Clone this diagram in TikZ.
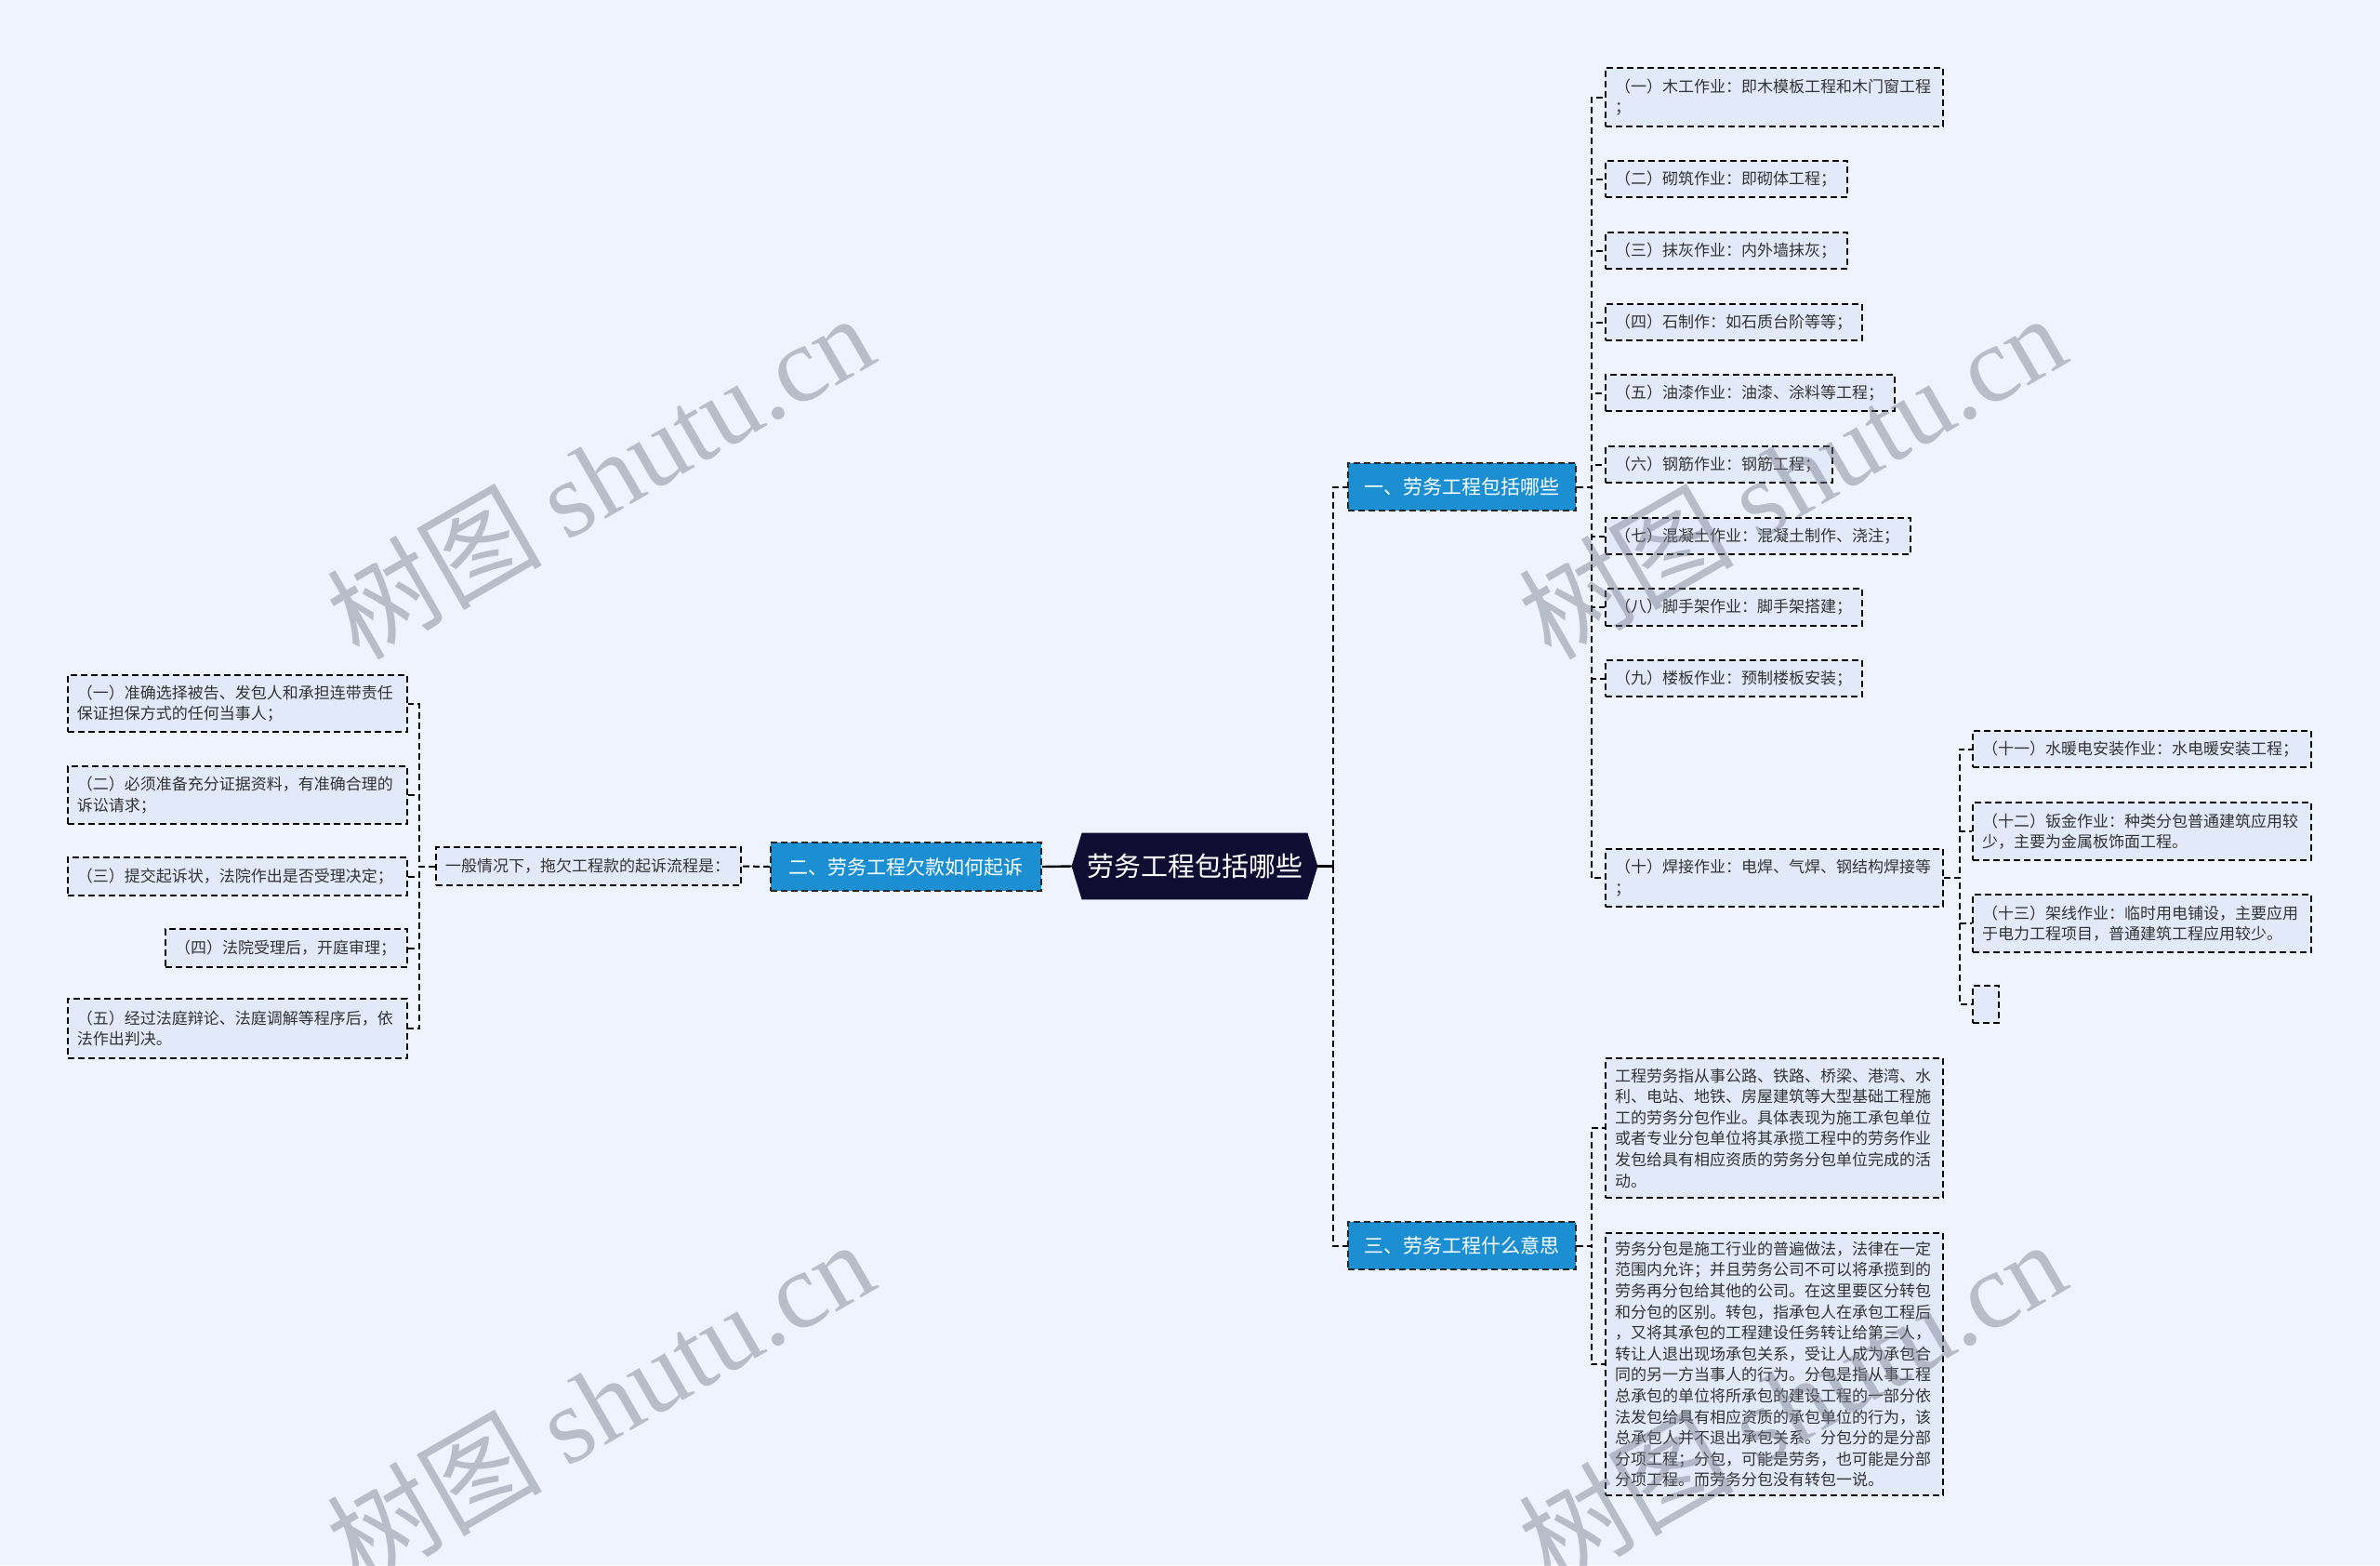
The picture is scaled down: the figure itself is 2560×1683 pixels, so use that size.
\documentclass[tikz,border=0pt]{standalone}
\usepackage{fontspec}
\setmainfont{Noto Sans CJK SC}
\newfontfamily\wmfont{Liberation Serif}
\usepackage{tikz}
\usetikzlibrary{backgrounds}
\definecolor{pagebg}{RGB}{238,243,253}
\definecolor{leaffill}{RGB}{226,234,250}
\definecolor{branchblue}{RGB}{27,143,210}
\definecolor{rootnavy}{RGB}{17,13,50}
\definecolor{markgray}{RGB}{120,125,140}

\begin{document}
\begin{tikzpicture}[x=0.5pt, y=-0.5pt,
  leaf/.style={draw=black, line width=0.9pt, dash pattern=on 3.5pt off 2pt, fill=leaffill,
    font=\fontsize{8.5}{11.3}\selectfont, text=black!80, align=left, inner xsep=5pt, inner ysep=2pt},
  branch/.style={draw=black!85, line width=0.9pt, dash pattern=on 3.5pt off 2pt, fill=branchblue,
    font=\fontsize{10.5}{13}\selectfont, text=white, minimum width=122.5pt, minimum height=25.5pt, inner sep=0pt},
  root/.style={font=\fontsize{14.5}{17}\selectfont, text=white, minimum width=132pt, minimum height=35.5pt, inner sep=0pt},
  link/.style={line width=1pt, dash pattern=on 3.5pt off 2pt},
  watermark/.style={rotate=30, text=markgray, text opacity=0.45, font=\fontsize{58}{60}\selectfont}]

  \useasboundingbox (0,0) rectangle (2560,1683);
  \begin{scope}[on background layer]
    \fill[pagebg] (0,0) rectangle (2560,1683);
  \end{scope}

  % root and branches
  \node[root] (centre) at (1285,931.5) {劳务工程包括哪些};
  \begin{scope}[on background layer]
    \fill[rootnavy] (centre.west) -- ([xshift=5.5pt]centre.north west) -- ([xshift=-5.5pt]centre.north east)
      -- (centre.east) -- ([xshift=-5.5pt]centre.south east) -- ([xshift=5.5pt]centre.south west) -- cycle;
  \end{scope}
  \node[branch] (b1) at (1572.5,523.5) {一、劳务工程包括哪些};
  \node[branch, minimum width=145.5pt, minimum height=26pt] (b2) at (974.5,932) {二、劳务工程欠款如何起诉};
  \node[branch] (b3) at (1572.5,1339.5) {三、劳务工程什么意思};

  % kinds of work
  \node[leaf, text width=171.5pt, minimum height=31.5pt] (r1) at (1908.5,104.5) {（一）木工作业：即木模板工程和木门窗工程\\；};
  \node[leaf, text width=120pt, minimum height=19.5pt] (r2) at (1857,192.5) {（二）砌筑作业：即砌体工程；};
  \node[leaf, text width=120pt, minimum height=19.5pt] (r3) at (1857,269.5) {（三）抹灰作业：内外墙抹灰；};
  \node[leaf, text width=128pt, minimum height=19.5pt] (r4) at (1865,346.5) {（四）石制作：如石质台阶等等；};
  \node[leaf, text width=145.5pt, minimum height=19.5pt] (r5) at (1882.5,422.5) {（五）油漆作业：油漆、涂料等工程；};
  \node[leaf, text width=112pt, minimum height=19.5pt] (r6) at (1849,499.5) {（六）钢筋作业：钢筋工程；};
  \node[leaf, text width=154pt, minimum height=19.5pt] (r7) at (1891,576.5) {（七）混凝土作业：混凝土制作、浇注；};
  \node[leaf, text width=128pt, minimum height=20pt] (r8) at (1865,653) {（八）脚手架作业：脚手架搭建；};
  \node[leaf, text width=128pt, minimum height=19.5pt] (r9) at (1865,729.5) {（九）楼板作业：预制楼板安装；};
  \node[leaf, text width=171.5pt, minimum height=31pt] (r10) at (1908.5,944) {（十）焊接作业：电焊、气焊、钢结构焊接等\\；};
  \node[leaf, text width=172pt, minimum height=19.5pt] (s11) at (2304,805.5) {（十一）水暖电安装作业：水电暖安装工程；};
  \node[leaf, text width=172pt, minimum height=31pt] (s12) at (2304,894) {（十二）钣金作业：种类分包普通建筑应用较\\少，主要为金属板饰面工程。};
  \node[leaf, text width=172pt, minimum height=31pt] (s13) at (2304,993) {（十三）架线作业：临时用电铺设，主要应用\\于电力工程项目，普通建筑工程应用较少。};
  \node[leaf, text width=4pt, minimum height=20pt] (s14) at (2136,1080) {};

  % meaning
  \node[leaf, text width=171.5pt, minimum height=75pt] (m1) at (1908.5,1213) {工程劳务指从事公路、铁路、桥梁、港湾、水\\利、电站、地铁、房屋建筑等大型基础工程施\\工的劳务分包作业。具体表现为施工承包单位\\或者专业分包单位将其承揽工程中的劳务作业\\发包给具有相应资质的劳务分包单位完成的活\\动。};
  \node[leaf, text width=171.5pt, minimum height=141pt] (m2) at (1908.5,1467) {劳务分包是施工行业的普遍做法，法律在一定\\范围内允许；并且劳务公司不可以将承揽到的\\劳务再分包给其他的公司。在这里要区分转包\\和分包的区别。转包，指承包人在承包工程后\\，又将其承包的工程建设任务转让给第三人，\\转让人退出现场承包关系，受让人成为承包合\\同的另一方当事人的行为。分包是指从事工程\\总承包的单位将所承包的建设工程的一部分依\\法发包给具有相应资质的承包单位的行为，该\\总承包人并不退出承包关系。分包分的是分部\\分项工程；分包，可能是劳务，也可能是分部\\分项工程。而劳务分包没有转包一说。};

  % lawsuit steps
  \node[leaf, text width=154pt, minimum height=20.5pt] (flow) at (633,931.5) {一般情况下，拖欠工程款的起诉流程是：};
  \node[leaf, text width=172.5pt, minimum height=30.5pt] (l1) at (255.5,756.5) {（一）准确选择被告、发包人和承担连带责任\\保证担保方式的任何当事人；};
  \node[leaf, text width=172.5pt, minimum height=31pt] (l2) at (255.5,855) {（二）必须准备充分证据资料，有准确合理的\\诉讼请求；};
  \node[leaf, text width=172.5pt, minimum height=20.5pt] (l3) at (255.5,942.5) {（三）提交起诉状，法院作出是否受理决定；};
  \node[leaf, text width=120pt, minimum height=20.5pt] (l4) at (308,1019.5) {（四）法院受理后，开庭审理；};
  \node[leaf, text width=172.5pt, minimum height=32pt] (l5) at (255.5,1106) {（五）经过法庭辩论、法庭调解等程序后，依\\法作出判决。};

  % connectors
  \draw[line width=1.2pt] (b2.east) -- (centre.west);
  \draw[line width=1.2pt] (centre.east) -- ++(17,0) coordinate (hub);
  \draw[link] (hub) |- (b1.west);
  \draw[link] (hub) |- (b3.west);
  \foreach \n in {r1,r2,r3,r4,r5,r6,r7,r8,r9,r10}
    \draw[link] (b1.east) -- ++(16,0) |- (\n.west);
  \foreach \n in {s11,s12,s13,s14}
    \draw[link] (r10.east) -- ++(17,0) |- (\n.west);
  \foreach \n in {m1,m2}
    \draw[link] (b3.east) -- ++(16,0) |- (\n.west);
  \draw[link] (b2.west) -- (flow.east);
  \foreach \n in {l1,l2,l3,l4,l5}
    \draw[link] (flow.west) -- ++(-17,0) |- (\n.east);

  % watermarks
  \node[watermark] (wm1) at (645,511) {树图 {\wmfont shutu.cn}};
  \node[watermark] (wm2) at (1927,511) {树图 {\wmfont shutu.cn}};
  \node[watermark] (wm3) at (645,1507) {树图 {\wmfont shutu.cn}};
  \node[watermark] (wm4) at (1927,1507) {树图 {\wmfont shutu.cn}};
\end{tikzpicture}
\end{document}
